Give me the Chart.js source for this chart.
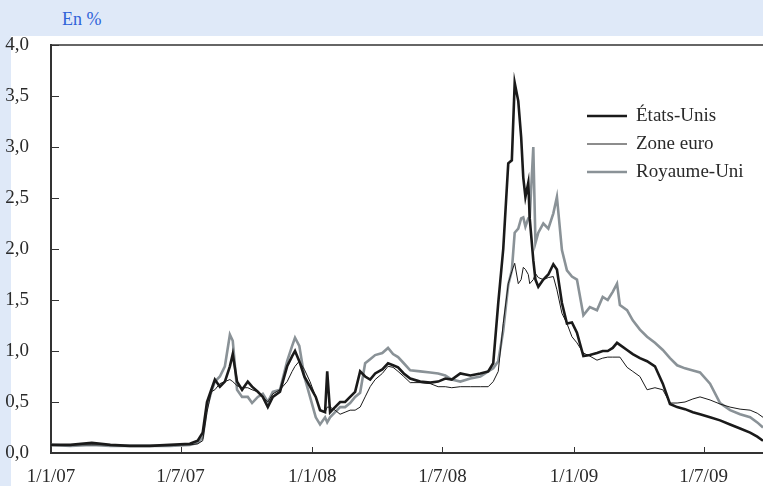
<!DOCTYPE html>
<html>
<head>
<meta charset="utf-8">
<script src="https://cdn.jsdelivr.net/npm/chart.js@4.4.1/dist/chart.umd.min.js"></script>
<style>
  html, body { margin:0; padding:0; }
  body { width:763px; height:486px; background:#dfe9f8; position:relative; overflow:hidden; }
  #panel { position:absolute; left:11px; top:36px; width:752px; height:450px; background:#ffffff; }
  #unit { position:absolute; left:62px; top:9px; font-family:"Liberation Serif", serif; font-size:18px; color:#2f63d8; }
  #wrap { position:absolute; left:0; top:0; width:763px; height:486px; }
</style>
</head>
<body>
<div id="panel"></div>
<div id="unit">En %</div>
<div id="wrap"><canvas id="c" width="763" height="486"></canvas></div>
<script>
// Days since 1 January 2007
const days = [0,27,57,83,110,138,166,194,205,212,218,224,229,236,243,250,254,260,267,275,281,289,296,303,310,320,330,337,341,347,354,362,370,376,383,386,390,397,404,411,418,425,432,439,446,453,463,471,478,485,493,502,516,530,541,551,560,572,586,600,611,618,625,632,639,644,648,653,657,660,663,667,669,674,677,681,688,695,702,707,714,721,728,735,744,753,763,771,778,785,791,795,805,813,823,833,844,855,865,875,886,897,907,921,935,949,963,977,987,995];

const etatsUnis = [0.08,0.08,0.10,0.08,0.07,0.07,0.08,0.09,0.12,0.20,0.50,0.62,0.72,0.65,0.70,0.85,0.97,0.70,0.62,0.70,0.65,0.60,0.55,0.45,0.55,0.60,0.85,0.95,1.00,0.90,0.75,0.65,0.55,0.42,0.40,0.80,0.40,0.45,0.50,0.50,0.55,0.60,0.80,0.75,0.72,0.78,0.82,0.88,0.86,0.84,0.78,0.73,0.70,0.69,0.70,0.73,0.72,0.78,0.76,0.78,0.80,0.88,1.47,2.00,2.84,2.87,3.63,3.45,3.10,2.70,2.51,2.65,2.30,1.89,1.70,1.63,1.70,1.75,1.85,1.80,1.47,1.27,1.28,1.18,0.95,0.96,0.98,1.00,1.00,1.03,1.08,1.06,1.01,0.97,0.93,0.90,0.85,0.68,0.48,0.45,0.43,0.40,0.38,0.35,0.32,0.28,0.24,0.20,0.16,0.12];

const zoneEuro = [0.08,0.08,0.08,0.08,0.07,0.07,0.08,0.08,0.09,0.12,0.40,0.60,0.62,0.68,0.70,0.72,0.70,0.66,0.64,0.64,0.62,0.60,0.55,0.50,0.58,0.62,0.70,0.80,0.85,0.90,0.82,0.70,0.55,0.42,0.40,0.45,0.45,0.42,0.38,0.40,0.42,0.42,0.45,0.55,0.65,0.72,0.78,0.85,0.84,0.80,0.75,0.69,0.69,0.68,0.65,0.65,0.64,0.65,0.65,0.65,0.65,0.70,0.80,1.27,1.66,1.78,1.86,1.66,1.70,1.82,1.80,1.75,1.66,1.70,1.76,1.72,1.70,1.72,1.73,1.60,1.37,1.27,1.14,1.08,0.98,0.95,0.91,0.93,0.94,0.94,0.94,0.94,0.84,0.80,0.75,0.62,0.64,0.62,0.49,0.49,0.50,0.53,0.55,0.52,0.48,0.45,0.43,0.42,0.39,0.35];

const royaumeUni = [0.08,0.07,0.08,0.07,0.07,0.07,0.07,0.08,0.10,0.15,0.45,0.60,0.70,0.75,0.85,1.16,1.10,0.62,0.55,0.55,0.49,0.55,0.58,0.50,0.60,0.62,0.90,1.05,1.13,1.05,0.75,0.55,0.35,0.28,0.35,0.30,0.35,0.40,0.45,0.45,0.49,0.55,0.59,0.88,0.92,0.96,0.98,1.03,0.97,0.94,0.88,0.81,0.80,0.79,0.78,0.76,0.72,0.70,0.73,0.75,0.80,0.83,0.90,1.20,1.65,1.79,2.16,2.20,2.30,2.31,2.22,2.30,2.31,3.00,2.06,2.16,2.25,2.20,2.35,2.51,1.99,1.79,1.73,1.70,1.35,1.43,1.40,1.53,1.50,1.58,1.66,1.45,1.40,1.30,1.21,1.14,1.08,1.01,0.93,0.86,0.83,0.81,0.79,0.68,0.49,0.42,0.38,0.35,0.30,0.25];

const tickDays = [0,181,365,547,731,912];
const tickLabels = ['1/1/07','1/7/07','1/1/08','1/7/08','1/1/09','1/7/09'];
const seriesNames = ['États-Unis','Zone euro','Royaume-Uni'];

const pts = arr => arr.map((v,i)=>({x:days[i], y:v}));
const FONT = '"Liberation Serif", serif';

const framePlugin = {
  id:'frame',
  afterDraw(chart){
    const {ctx, chartArea:a, scales:{x,y}} = chart;
    ctx.save();
    ctx.strokeStyle = '#333';
    ctx.lineWidth = 1.5;
    ctx.beginPath(); ctx.moveTo(a.left, a.top); ctx.lineTo(a.right, a.top); ctx.stroke();
    ctx.lineWidth = 1;
    x.ticks.forEach(t=>{ const px = Math.round(x.getPixelForValue(t.value))+0.5; ctx.beginPath(); ctx.moveTo(px,a.bottom); ctx.lineTo(px,a.bottom-6); ctx.stroke(); });
    y.ticks.forEach(t=>{ const py = Math.round(y.getPixelForValue(t.value))+0.5; ctx.beginPath(); ctx.moveTo(a.left,py); ctx.lineTo(a.left+8,py); ctx.stroke(); });
    // legend
    ctx.font = '19px ' + FONT;
    ctx.textBaseline = 'middle';
    ctx.fillStyle = '#2a2a2a';
    chart.data.datasets.forEach((ds,i)=>{
      const yy = 116 + i*28;
      ctx.strokeStyle = ds.borderColor; ctx.lineWidth = ds.borderWidth;
      ctx.beginPath(); ctx.moveTo(587,yy); ctx.lineTo(627,yy); ctx.stroke();
      ctx.fillText(ds.label, 636, yy);
    });
    ctx.restore();
  }
};

new Chart(document.getElementById('c'), {
  type:'line',
  data:{ datasets:[
    {label:seriesNames[0], data:pts(etatsUnis), borderColor:'#1a1a1a', borderWidth:2.6},
    {label:seriesNames[1], data:pts(zoneEuro), borderColor:'#1a1a1a', borderWidth:1},
    {label:seriesNames[2], data:pts(royaumeUni), borderColor:'#8a9297', borderWidth:2.6}
  ]},
  options:{
    responsive:false, animation:false,
    layout:{padding:{top:45, right:0, bottom:0, left:0}},
    elements:{point:{radius:0}, line:{tension:0}},
    plugins:{legend:{display:false}, tooltip:{enabled:false}},
    scales:{
      x:{ type:'linear', min:0, max:995,
        grid:{display:false},
        border:{display:true, color:'#333', width:2},
        afterBuildTicks(s){ s.ticks = tickDays.map(v=>({value:v})); },
        afterFit(s){ s.height = 33; },
        ticks:{ autoSkip:false, maxRotation:0, padding:5, color:'#2a2a2a', font:{family:FONT, size:19},
          callback(v){ const i = tickDays.indexOf(v); return i>=0 ? tickLabels[i] : ''; } }
      },
      y:{ min:0, max:4, 
        grid:{display:false},
        border:{display:true, color:'#333', width:2},
        afterFit(s){ s.width = 51; },
        ticks:{ stepSize:0.5, padding:14, color:'#2a2a2a', font:{family:FONT, size:19},
          callback(v){ return v.toFixed(1).replace('.',','); } }
      }
    }
  },
  plugins:[framePlugin]
});
</script>
</body>
</html>
